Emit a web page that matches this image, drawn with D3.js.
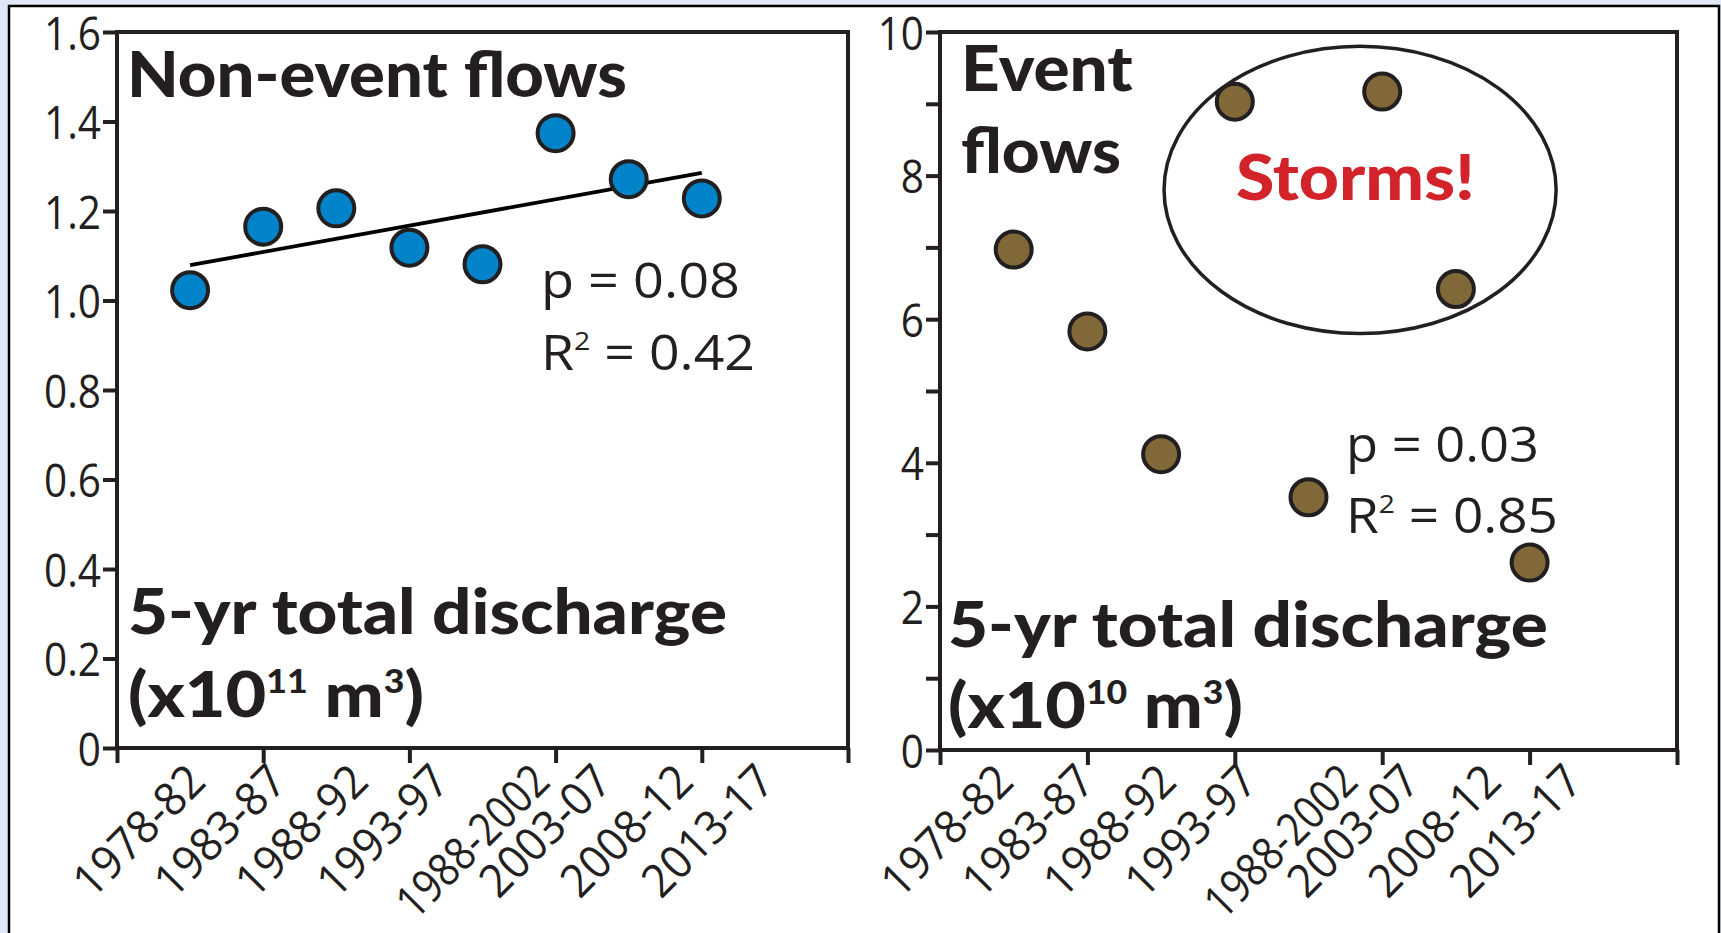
<!DOCTYPE html>
<html><head><meta charset="utf-8">
<script src="https://cdn.jsdelivr.net/npm/d3@7"></script>
<style>
html,body{margin:0;padding:0;background:#dfe8f4;overflow:hidden;}
svg{display:block;}
</style></head>
<body>
<svg id="chart" width="1721" height="933"></svg>
<script>
// ---------------- data ----------------
const periods = ["1978-82","1983-87","1988-92","1993-97","1988-2002","2003-07","2008-12","2013-17"];
const nonEventFlows = [1.023, 1.165, 1.206, 1.118, 1.081, 1.374, 1.271, 1.228];   // x10^11 m3
const eventFlows    = [6.97, 5.83, 4.12, 9.03, 3.52, 9.17, 6.42, 2.61];           // x10^10 m3
const nonEventTrend = [1.079, 1.285];   // fitted line value at first and last period
const leftYTicks = [0, 0.2, 0.4, 0.6, 0.8, 1.0, 1.2, 1.4, 1.6];
const leftYTickLabels = ["0","0.2","0.4","0.6","0.8","1.0","1.2","1.4","1.6"];
const rightYTicks = [0, 2, 4, 6, 8, 10];
const rightYTickLabels = ["0","2","4","6","8","10"];
const rightYMinorTicks = [1, 3, 5, 7, 9];
const xAxisTicks = [-1, 1, 3, 5, 7, 9];          // period-index units
const stormEllipse = {cx: 4.7, cy: 7.8, rx: 2.66, ry: 2.0}; // in data units

// ---------------- style ----------------
const INK = "#231f20";
const BOLD = "Lato, 'Open Sans', sans-serif";
const LIGHT = "'Open Sans', Lato, sans-serif";
const W = 1721, H = 933;
const LABEL_Y = 784, LABEL_NUDGE = 19, LABEL_SIZE = 46;

const svg = d3.select("#chart");
svg.append("rect").attr("width",W).attr("height",H).attr("fill","#dfe8f4");
svg.append("rect").attr("x",9).attr("y",6).attr("width",1710).attr("height",940)
   .attr("fill","#ffffff").attr("stroke","#000").attr("stroke-width",2.5);

const panels = [
  {x0:117, x1:848, yTop:32, yBot:748, domain:[0,1.6], values:nonEventFlows, fill:"#0083c9",
   ticks:leftYTicks, tickLabels:leftYTickLabels, minor:[], labelRange:[208,777], trend:nonEventTrend},
  {x0:940, x1:1677, yTop:32, yBot:750, domain:[0,10], values:eventFlows, fill:"#806838",
   ticks:rightYTicks, tickLabels:rightYTickLabels, minor:rightYMinorTicks, labelRange:[1016,1585], ellipse:stormEllipse}
];

function fit(sel, x, w){
  const bb = sel.node().getBBox();
  const k = w / bb.width;
  sel.attr("transform", `translate(${x},0) scale(${k},1) translate(${-x},0)`);
}
function squeeze(sel, k, maxLen){
  sel.each(function(){
    let L = this.getComputedTextLength() * k;
    if (maxLen && L > maxLen) L = maxLen;
    d3.select(this).attr("textLength", L).attr("lengthAdjust","spacingAndGlyphs");
  });
}
// longest length a -45° label can have without running past the bottom edge
const maxLabelLen = (H - 3 - LABEL_Y) / Math.SQRT1_2 - 0.28 * LABEL_SIZE;

panels.forEach(p => {
  const g = svg.append("g");
  const x = d3.scaleLinear().domain([-1, 9]).range([p.x0, p.x1]);
  const y = d3.scaleLinear().domain(p.domain).range([p.yBot, p.yTop]);

  g.append("rect").attr("x",p.x0).attr("y",p.yTop).attr("width",p.x1-p.x0).attr("height",p.yBot-p.yTop)
   .attr("fill","none").attr("stroke",INK).attr("stroke-width",4);

  const yg = g.append("g").attr("transform",`translate(${p.x0},0)`)
    .call(d3.axisLeft(y).tickValues(p.ticks).tickSize(14).tickPadding(2).tickFormat((d,i)=>p.tickLabels[i]));
  yg.select(".domain").remove();
  yg.selectAll("line").attr("stroke",INK).attr("stroke-width",4);
  yg.selectAll("text").attr("font-family",LIGHT).attr("font-weight",400).attr("font-size",45)
    .attr("fill",INK).attr("dy","0.38em").call(squeeze, 0.9);

  if (p.minor.length){
    const mg = g.append("g").attr("transform",`translate(${p.x0},0)`)
      .call(d3.axisLeft(y).tickValues(p.minor).tickSize(14).tickFormat(""));
    mg.select(".domain").remove();
    mg.selectAll("line").attr("stroke",INK).attr("stroke-width",4);
  }

  const xg = g.append("g").attr("transform",`translate(0,${p.yBot})`)
    .call(d3.axisBottom(x).tickValues(xAxisTicks).tickSize(15).tickFormat(""));
  xg.select(".domain").remove();
  xg.selectAll("line").attr("stroke",INK).attr("stroke-width",4);

  const lx = d3.scalePoint().domain(periods).range(p.labelRange);
  g.selectAll(".xl").data(periods).join("text").attr("class","xl")
    .attr("transform", d => `translate(${lx(d) + (d==="1988-2002"?LABEL_NUDGE:0)},${LABEL_Y}) rotate(-45)`)
    .attr("text-anchor","end").attr("font-family",LIGHT).attr("font-weight",400).attr("font-size",LABEL_SIZE)
    .attr("fill",INK).text(d=>d).call(squeeze, 0.95, maxLabelLen);

  if (p.trend){
    g.append("line").attr("x1",x(0)).attr("y1",y(p.trend[0])).attr("x2",x(periods.length-1)).attr("y2",y(p.trend[1]))
     .attr("stroke","#000").attr("stroke-width",3.8);
  }
  if (p.ellipse){
    const e = p.ellipse;
    g.append("ellipse").attr("cx",x(e.cx)).attr("cy",y(e.cy))
     .attr("rx",x(e.cx+e.rx)-x(e.cx)).attr("ry",y(e.cy-e.ry)-y(e.cy))
     .attr("fill","none").attr("stroke",INK).attr("stroke-width",3.5);
  }
  g.selectAll(".pt").data(p.values).join("circle").attr("class","pt")
    .attr("cx",(d,i)=>x(i)).attr("cy",d=>y(d)).attr("r",18)
    .attr("fill",p.fill).attr("stroke",INK).attr("stroke-width",4);
});

// --------------- annotations ---------------
function label(parts, o){
  const t = svg.append("text").attr("x",o.x).attr("y",o.y).attr("font-family",o.family)
    .attr("font-weight",o.weight).attr("font-size",o.size).attr("fill",o.fill||INK);
  parts.forEach(pt => {
    if (typeof pt === "string") t.append("tspan").text(pt);
    else t.append("tspan").attr("font-size",pt.size).attr("dy",pt.dy).text(pt.t);
  });
  fit(t, o.x, o.w);
  return t;
}
const B = {family:BOLD, weight:900, size:63};
const L = {family:LIGHT, weight:400, size:49};

label(["Non-event flows"], {...B, x:127, y:97, w:500});
label(["p = 0.08"], {...L, x:541, y:298, w:199});
label(["R", {t:"2", size:26, dy:-20}, {t:" = 0.42", size:49, dy:20}], {...L, x:541, y:370, w:214});
label(["5-yr total discharge"], {...B, x:128, y:634, w:599});
label(["(x10", {t:"11", size:32, dy:-24}, {t:" m", size:63, dy:24}, {t:"3", size:32, dy:-24}, {t:")", size:63, dy:24}],
      {...B, x:128, y:717, w:296});

label(["Event"], {...B, x:961, y:91, w:172});
label(["flows"], {...B, x:961, y:173, w:160});
label(["Storms!"], {...B, x:1236, y:200, w:239, fill:"#d2232a"});
label(["p = 0.03"], {...L, x:1346, y:462, w:193});
label(["R", {t:"2", size:26, dy:-20}, {t:" = 0.85", size:49, dy:20}], {...L, x:1346, y:533, w:212});
label(["5-yr total discharge"], {...B, x:948, y:647, w:600});
label(["(x10", {t:"10", size:32, dy:-24}, {t:" m", size:63, dy:24}, {t:"3", size:32, dy:-24}, {t:")", size:63, dy:24}],
      {...B, x:948, y:728, w:295});
</script>
</body></html>
